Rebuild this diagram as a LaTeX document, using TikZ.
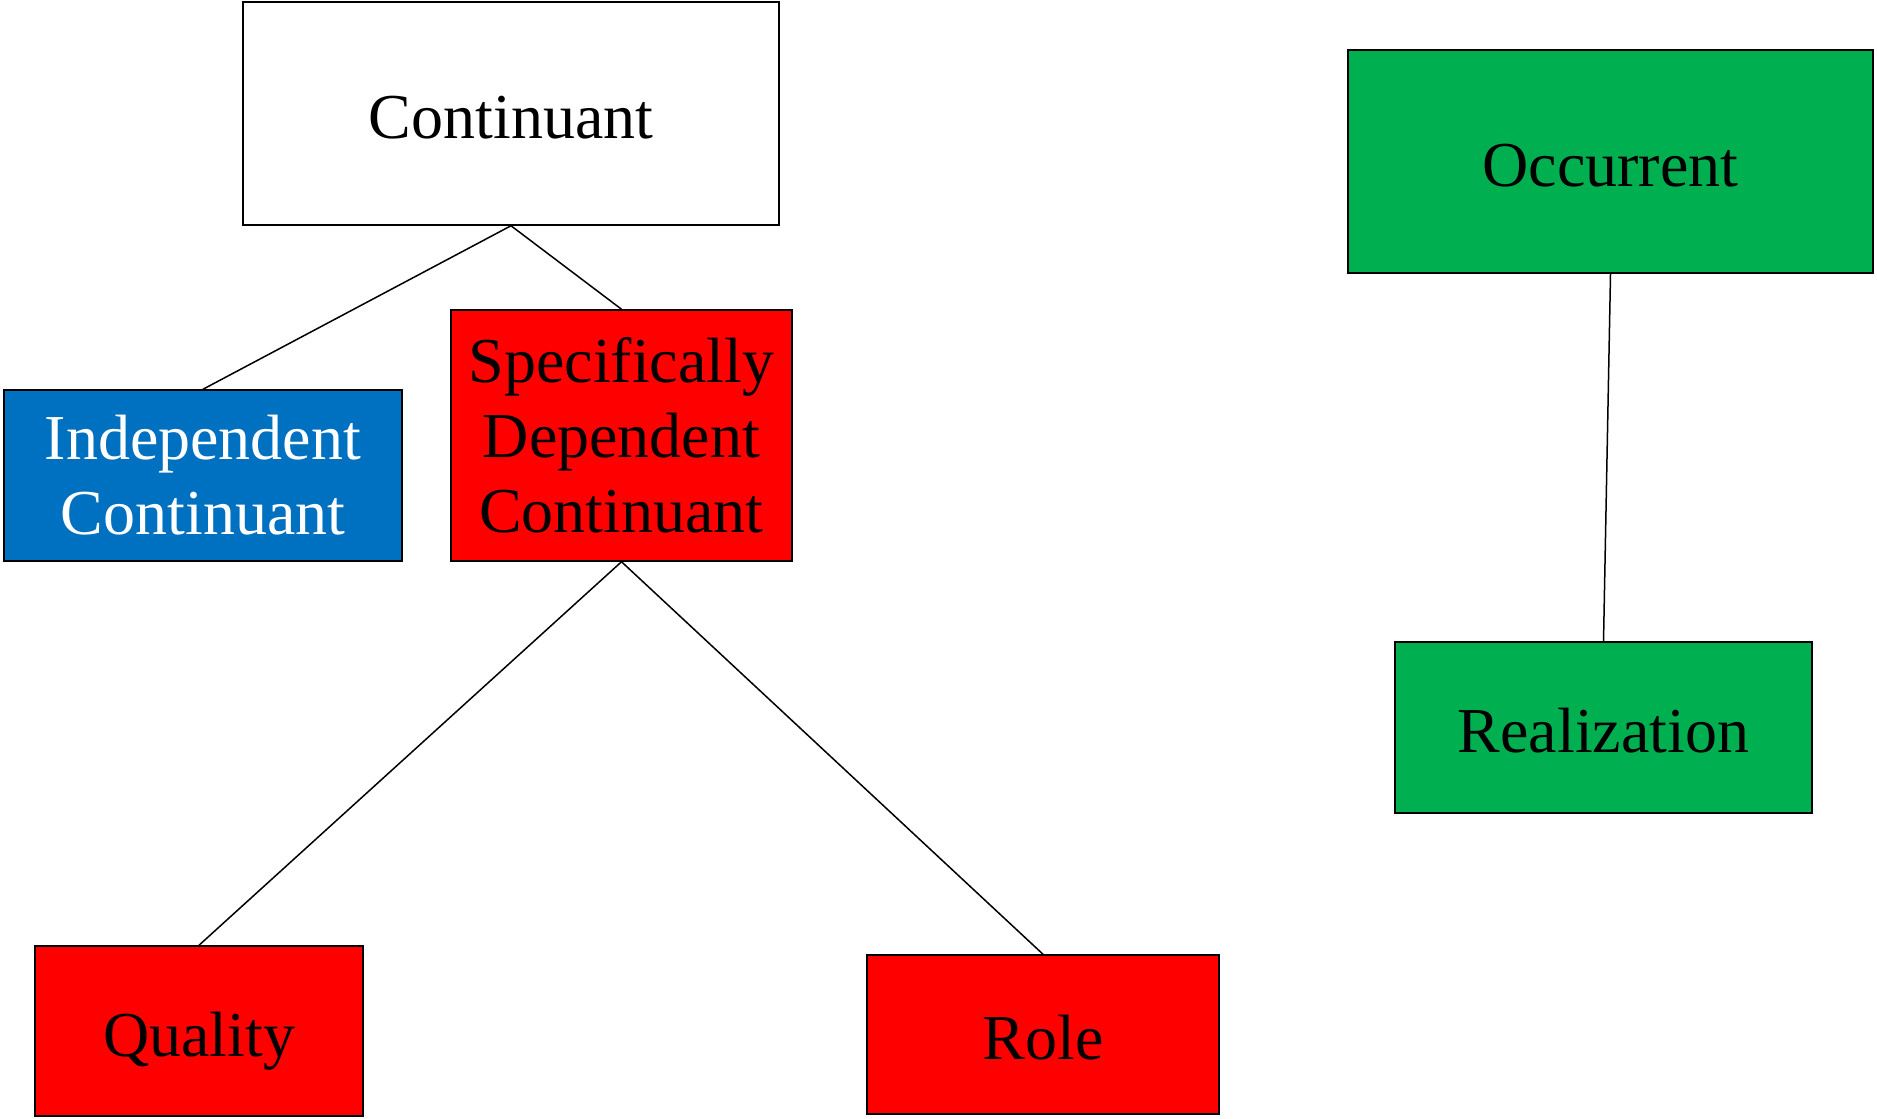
\documentclass[tikz,border=0pt]{standalone}
\usepackage{xcolor}
\usepackage{fontspec}
\setmainfont{Liberation Serif}
\usepackage{tikz}
\usetikzlibrary{positioning}
\definecolor{icblue}{HTML}{0070C0}
\definecolor{sdcred}{HTML}{FF0000}
\definecolor{occgreen}{HTML}{00B050}

\begin{document}
\begin{tikzpicture}[
    x=0.5pt, y=-0.5pt,% one unit per pixel of the reference
       box/.style = {draw, line width=0.75pt, inner sep=0pt, align=center,
                     font=\fontsize{32}{37.5}\selectfont},% nodes style
   oneline/.style = {text height=29pt, text depth=4pt},% same baseline for one line labels
      link/.style = {line width=0.75pt}
    ]
    \useasboundingbox (0,0) rectangle (1877,1118);
    \node (cont) [box, oneline, minimum width=268pt, minimum height=111.5pt] at (511,113.5) {Continuant};
    \node (occ) [box, oneline, fill=occgreen, minimum width=262.5pt, minimum height=111.5pt] at (1610.5,161.5) {Occurrent};
    \node (indep) [box, fill=icblue, text=white, minimum width=199pt, minimum height=85.5pt] at (203,475.5) {Independent\\Continuant};
    \node (sdc) [box, fill=sdcred, minimum width=170.5pt, minimum height=125.5pt] at (621.5,435.5) {Specifically\\Dependent\\Continuant};
    \node (qual) [box, oneline, fill=sdcred, minimum width=164pt, minimum height=85pt] at (199,1031) {Quality};
    \node (role) [box, oneline, fill=sdcred, minimum width=176pt, minimum height=79.5pt] at (1043,1034.5) {Role};
    \node (real) [box, oneline, fill=occgreen, minimum width=208.5pt, minimum height=85.5pt] at (1603.5,727.5) {Realization};
    \draw[link] (cont.south) -- (indep.north);
    \draw[link] (cont.south) -- (sdc.north);
    \draw[link] (sdc.south) -- (qual.north);
    \draw[link] (sdc.south) -- (role.north);
    \draw[link] (occ.south) -- (real.north);
\end{tikzpicture}
\end{document}
